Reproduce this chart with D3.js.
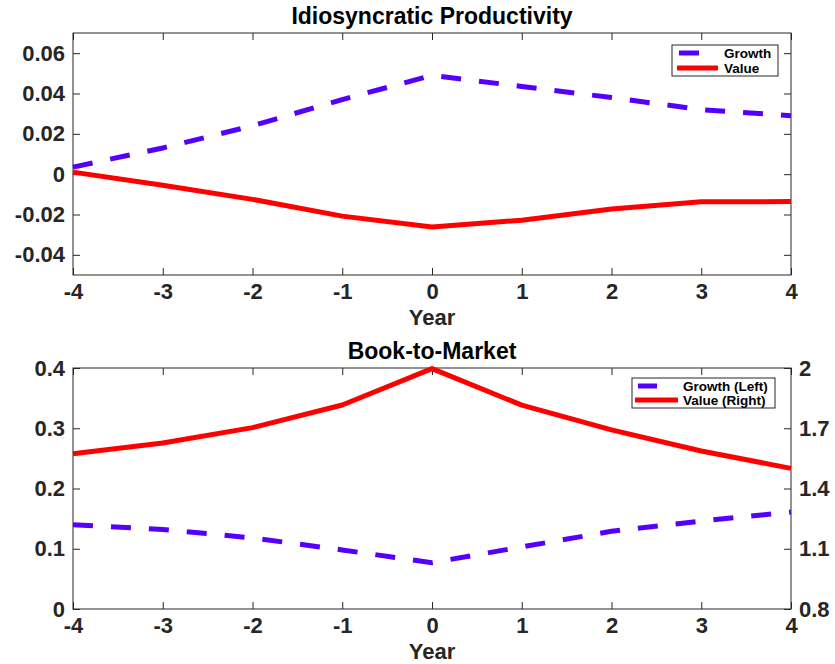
<!DOCTYPE html>
<html>
<head>
<meta charset="utf-8">
<script src="https://cdn.jsdelivr.net/npm/d3@7"></script>
<style>
  html, body { margin: 0; padding: 0; background: #fff; }
  svg { display: block; font-family: "Liberation Sans", Arial, sans-serif; font-weight: bold; }
</style>
</head>
<body>
<svg id="chart" width="835" height="664"></svg>
<script>
// Event-time years around portfolio formation
const years = [-4, -3, -2, -1, 0, 1, 2, 3, 4];

// Idiosyncratic productivity
const prodGrowth = [0.0035, 0.013, 0.024, 0.037, 0.049, 0.0435, 0.038, 0.032, 0.029];
const prodValue  = [0.001, -0.0055, -0.0125, -0.0208, -0.0262, -0.0228, -0.0173, -0.0137, -0.0136];
const prodTicks  = [-0.04, -0.02, 0, 0.02, 0.04, 0.06];

// Book-to-market (growth on left axis, value on right axis)
const bmGrowth = [0.140, 0.132, 0.118, 0.098, 0.077, 0.103, 0.129, 0.146, 0.161];
const bmValue  = [1.573, 1.627, 1.703, 1.816, 1.997, 1.815, 1.692, 1.587, 1.500];
const bmLeftTicks  = [0, 0.1, 0.2, 0.3, 0.4];
const bmRightTicks = [0.8, 1.1, 1.4, 1.7, 2];

const BLUE = "#5500ff", RED = "#ff0000", INK = "#262626";
const svg = d3.select("#chart");
svg.append("rect").attr("width", 835).attr("height", 664).attr("fill", "#fff");

const left = 73, right = 791;
const x = d3.scaleLinear().domain([-4, 4]).range([left, right]);

// plain hyphen-minus labels
const fmt = v => String(v);

function panel(cfg) {
  const g = svg.append("g");
  const yL = d3.scaleLinear().domain(cfg.yDomain).range([cfg.bottom, cfg.top]);
  const yR = cfg.rDomain ? d3.scaleLinear().domain(cfg.rDomain).range([cfg.bottom, cfg.top]) : null;

  const styleAxis = (sel, showText) => {
    sel.select(".domain").remove();
    sel.selectAll(".tick line").attr("stroke", INK).attr("stroke-width", 1);
    sel.selectAll(".tick text").attr("fill", showText ? INK : "none")
      .style("font-size", "22px").style("font-weight", "bold");
  };

  // axes: inward ticks on all four sides
  g.append("g").attr("transform", `translate(0,${cfg.bottom})`)
    .call(d3.axisBottom(x).tickValues(years).tickFormat(fmt).tickSize(-7).tickPadding(8))
    .call(s => styleAxis(s, true));
  g.append("g").attr("transform", `translate(0,${cfg.top})`)
    .call(d3.axisTop(x).tickValues(years).tickSize(-7).tickFormat(""))
    .call(s => styleAxis(s, false));
  g.append("g").attr("transform", `translate(${left},0)`)
    .call(d3.axisLeft(yL).tickValues(cfg.yTicks).tickFormat(fmt).tickSize(-7).tickPadding(8))
    .call(s => styleAxis(s, true));
  if (yR) {
    g.append("g").attr("transform", `translate(${right},0)`)
      .call(d3.axisRight(yR).tickValues(cfg.rTicks).tickFormat(fmt).tickSize(-7).tickPadding(8))
      .call(s => styleAxis(s, true));
  } else {
    g.append("g").attr("transform", `translate(${right},0)`)
      .call(d3.axisRight(yL).tickValues(cfg.yTicks).tickSize(-7).tickFormat(""))
      .call(s => styleAxis(s, false));
  }
  g.append("rect").attr("x", left).attr("y", cfg.top)
    .attr("width", right - left).attr("height", cfg.bottom - cfg.top)
    .attr("fill", "none").attr("stroke", INK).attr("stroke-width", 1);

  // series
  const line = (ys) => d3.line().x((d, i) => x(years[i])).y(d => ys(d));
  g.append("path").datum(cfg.red).attr("d", line(yR || yL))
    .attr("fill", "none").attr("stroke", RED).attr("stroke-width", 5).attr("stroke-linejoin", "round");
  g.append("path").datum(cfg.blue).attr("d", line(yL))
    .attr("fill", "none").attr("stroke", BLUE).attr("stroke-width", 5)
    .attr("stroke-dasharray", "20,18");

  // title and x label
  g.append("text").attr("x", (left + right) / 2).attr("y", cfg.top - 9)
    .attr("text-anchor", "middle").attr("fill", "#000").style("font-size", "23px").text(cfg.title);
  g.append("text").attr("x", (left + right) / 2).attr("y", cfg.bottom + 50)
    .attr("text-anchor", "middle").attr("fill", INK).style("font-size", "22px").text("Year");

  // legend
  const L = cfg.legend;
  g.append("rect").attr("x", L.x).attr("y", L.y).attr("width", L.w).attr("height", L.h)
    .attr("fill", "#fff").attr("stroke", INK).attr("stroke-width", 1);
  L.items.forEach((it, i) => {
    const yy = L.y + L.rowY[i];
    g.append("line").attr("x1", it.x1).attr("x2", it.x2).attr("y1", yy).attr("y2", yy)
      .attr("stroke", it.color).attr("stroke-width", 5);
    g.append("text").attr("x", L.textX).attr("y", yy + 5).attr("fill", "#000")
      .style("font-size", "13.5px").text(it.label);
  });
}

panel({
  top: 33, bottom: 275, yDomain: [-0.05, 0.07], yTicks: prodTicks,
  blue: prodGrowth, red: prodValue, title: "Idiosyncratic Productivity",
  legend: { x: 672, y: 45, w: 106, h: 31, textX: 724, rowY: [8, 23],
    items: [{ label: "Growth", color: BLUE, x1: 679, x2: 699 },
            { label: "Value", color: RED, x1: 677, x2: 718 }] }
});

panel({
  top: 368, bottom: 609, yDomain: [0, 0.4], yTicks: bmLeftTicks,
  rDomain: [0.8, 2], rTicks: bmRightTicks,
  blue: bmGrowth, red: bmValue, title: "Book-to-Market",
  legend: { x: 632, y: 378, w: 143, h: 30, textX: 683, rowY: [8, 22],
    items: [{ label: "Growth (Left)", color: BLUE, x1: 638, x2: 657 },
            { label: "Value (Right)", color: RED, x1: 635, x2: 678 }] }
});
</script>
</body>
</html>
